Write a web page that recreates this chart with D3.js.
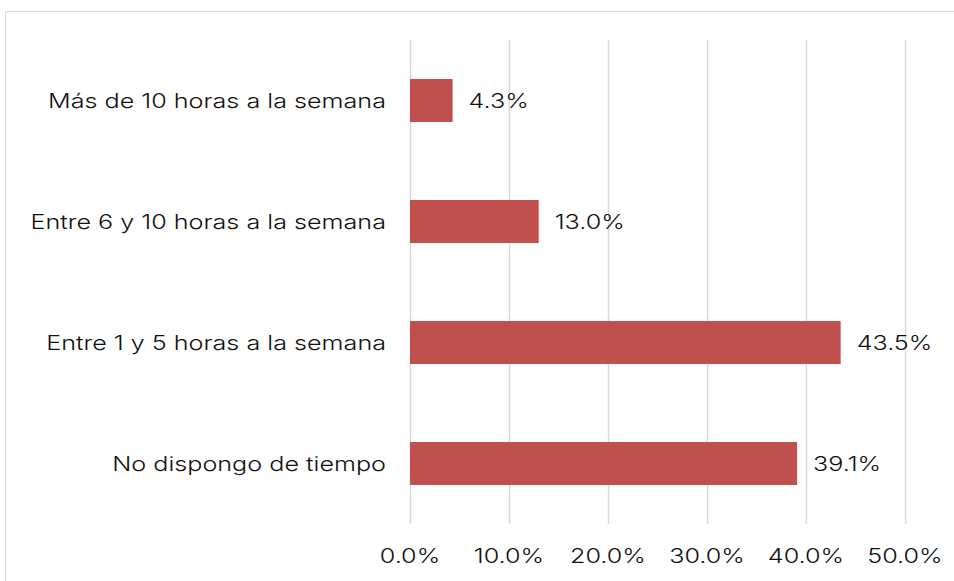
<!DOCTYPE html>
<html><head><meta charset="utf-8">
<script src="https://cdn.jsdelivr.net/npm/d3@7"></script>
<style>body{margin:0;background:#fff}svg{display:block}</style>
</head><body>
<svg id="c" width="954" height="581"></svg>
<script>
const categories = ["Más de 10 horas a la semana","Entre 6 y 10 horas a la semana","Entre 1 y 5 horas a la semana","No dispongo de tiempo"];
const values = [4.3, 13.0, 43.5, 39.1];
const tickValues = [0,10,20,30,40,50];

const svg = d3.select("#c");
const font = "Inter, 'Noto Sans', sans-serif";
const fs = 20;
const fw = 300;
// calibrate horizontal stretch on the first category label (reference width ≈ 338px)
const probe = svg.append("text").attr("font-family",font).attr("font-size",fs).attr("font-weight",fw).text(categories[0]);
const stretch = 338 / probe.node().getComputedTextLength();
probe.remove();
function widen(sel){
  sel.each(function(){
    const w = this.getComputedTextLength();
    d3.select(this).attr("textLength", w*stretch).attr("lengthAdjust","spacingAndGlyphs");
  });
}
svg.append("rect").attr("x",5.5).attr("y",11.5).attr("width",960).attr("height",600)
  .attr("fill","none").attr("stroke","#d9d9d9").attr("stroke-width",1);

const x = d3.scaleLinear().domain([0,50]).range([410,905]);
const y = d3.scaleBand().domain(categories).range([40,524]).paddingInner(0.645).paddingOuter(0.3225);

svg.append("g").selectAll("line").data(tickValues).join("line")
  .attr("x1",d=>Math.round(x(d))+0.5).attr("x2",d=>Math.round(x(d))+0.5)
  .attr("y1",40).attr("y2",524).attr("stroke","#d9d9d9").attr("stroke-width",1.5);

svg.append("g").selectAll("rect").data(values).join("rect")
  .attr("x",x(0)).attr("y",(d,i)=>y(categories[i]))
  .attr("width",d=>x(d)-x(0)).attr("height",y.bandwidth()).attr("fill","#C0504D");

const txt = g => g.attr("font-family",font).attr("font-size",fs).attr("font-weight",fw).attr("fill","#111");

svg.append("g").selectAll("text").data(values).join("text")
  .attr("x",d=>x(d)+16).attr("y",(d,i)=>y(categories[i])+y.bandwidth()/2)
  .attr("dy","0.35em").call(txt)
  .text(d=>d.toFixed(1)+"%").call(widen);

svg.append("g").selectAll("text").data(categories).join("text")
  .attr("x",386).attr("y",d=>y(d)+y.bandwidth()/2).attr("dy","0.35em")
  .attr("text-anchor","end").call(txt)
  .text(d=>d).call(widen);

svg.append("g").selectAll("text").data(tickValues).join("text")
  .attr("x",d=>x(d)).attr("y",556).attr("dy","0.35em").attr("text-anchor","middle").call(txt)
  .text(d=>d.toFixed(1)+"%").call(widen);
</script>
</body></html>
